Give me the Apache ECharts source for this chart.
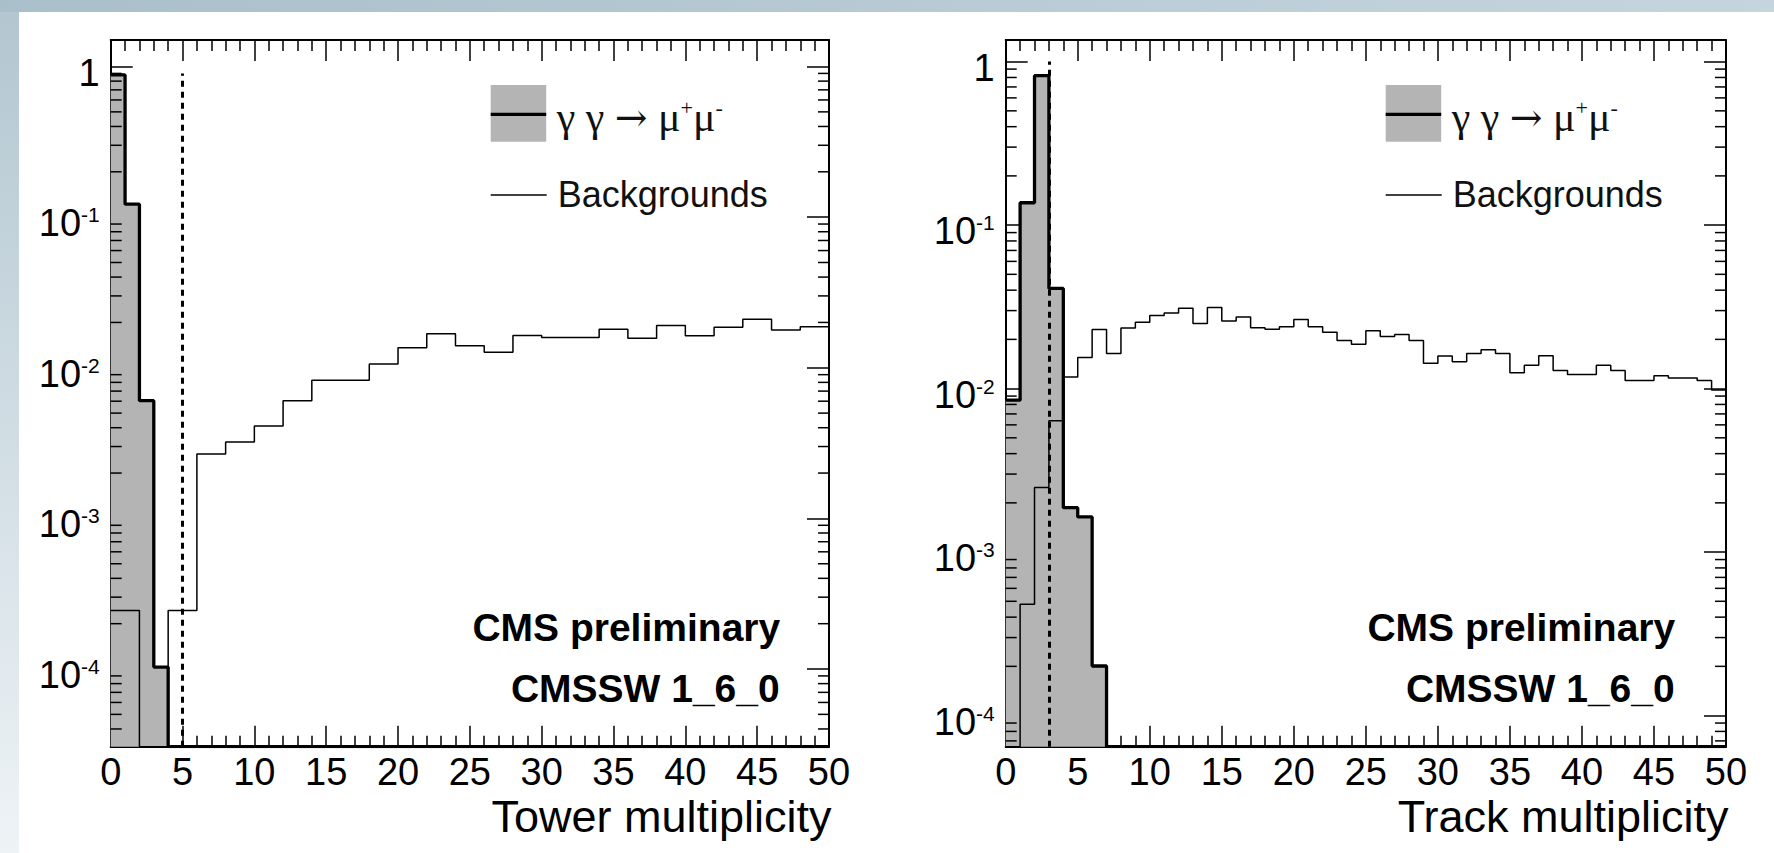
<!DOCTYPE html>
<html>
<head>
<meta charset="utf-8">
<script src="https://cdn.jsdelivr.net/npm/echarts@6/dist/echarts.min.js"></script>
<style>
html,body{margin:0;padding:0;background:#fff;}
#chart{width:1774px;height:853px;}
</style>
</head>
<body>
<div id="chart"></div>
<script>
// ---------------- data ----------------
// x-axis ticks (both panels)
const xMin = 0, xMax = 50, xTickStep = 5;

// Tower multiplicity panel
const towerSignalBinWidth = 1;
const towerSignal = [0.88, 0.122, 0.00605, 0.000103, 0, 0, 0, 0, 0, 0,
  0, 0, 0, 0, 0, 0, 0, 0, 0, 0, 0, 0, 0, 0, 0, 0, 0, 0, 0, 0,
  0, 0, 0, 0, 0, 0, 0, 0, 0, 0, 0, 0, 0, 0, 0, 0, 0, 0, 0, 0];
const towerBackgroundBinWidth = 2;
const towerBackground = [2.45e-4, 0, 2.45e-4, 2.68e-3, 3.21e-3, 4.11e-3, 6.03e-3, 8.26e-3, 8.26e-3, 0.0106,
  0.0136, 0.0168, 0.0140, 0.0127, 0.0164, 0.0159, 0.0159, 0.0180, 0.0157, 0.0191,
  0.0163, 0.0186, 0.0210, 0.0178, 0.0187];
const towerCut = 5, towerCutTop = 0.9;
const towerYRange = [3.05e-5, 1.5];

// Track multiplicity panel
const trackSignalBinWidth = 1;
const trackSignal = [0.0085, 0.137, 0.821, 0.041, 0.00187, 0.00164, 0.000201, 0, 0, 0,
  0, 0, 0, 0, 0, 0, 0, 0, 0, 0, 0, 0, 0, 0, 0, 0, 0, 0, 0, 0,
  0, 0, 0, 0, 0, 0, 0, 0, 0, 0, 0, 0, 0, 0, 0, 0, 0, 0, 0, 0];
const trackBackgroundBinWidth = 1;
const trackBackground = [0, 4.8e-4, 2.48e-3, 6.36e-3, 0.01177, 0.0155, 0.0230, 0.0164, 0.0235, 0.0255,
  0.028, 0.029, 0.031, 0.025, 0.0313, 0.0259, 0.0274, 0.0236, 0.0231, 0.0239,
  0.0265, 0.0239, 0.0221, 0.0197, 0.0187, 0.0226, 0.0208, 0.0214, 0.0197, 0.0143,
  0.0158, 0.0146, 0.0164, 0.0173, 0.0164, 0.0125, 0.0139, 0.0159, 0.0129, 0.0122,
  0.0122, 0.0139, 0.0129, 0.0112, 0.0112, 0.0120, 0.0116, 0.0116, 0.0112, 0.0098];
const trackCut = 3, trackCutTop = 1.0;
const trackYRange = [6.45e-5, 1.356];

// text
const xTitles = ['Tower multiplicity', 'Track multiplicity'];
const legendSignal = 'γ γ {a|→} μ{s|+}μ{s|-}';
const legendBackground = 'Backgrounds';
const cmsLine1 = 'CMS preliminary';
const cmsLine2 = 'CMSSW 1_6_0';

// ---------------- layout / style ----------------
const SANS = '"Liberation Sans", Arial, Helvetica, sans-serif';
const SERIF = '"Liberation Serif", "DejaVu Serif", "Times New Roman", serif';
const panels = [
  {left: 110.7, width: 718.3, sig: towerSignal, sigW: towerSignalBinWidth, bg: towerBackground, bgW: towerBackgroundBinWidth, cut: towerCut, cutTop: towerCutTop, yr: towerYRange, title: xTitles[0]},
  {left: 1005.7, width: 720.3, sig: trackSignal, sigW: trackSignalBinWidth, bg: trackBackground, bgW: trackBackgroundBinWidth, cut: trackCut, cutTop: trackCutTop, yr: trackYRange, title: xTitles[1]}
];
const GRID_TOP = 40, GRID_H = 706.7;

function histPoints(values, binWidth, floor) {
  const pts = values.map((v, i) => [xMin + i * binWidth, v > 0 ? v : floor]);
  const last = values[values.length - 1];
  pts.push([xMin + values.length * binWidth, last > 0 ? last : floor]);
  return pts;
}
function logLabel(value) {
  const l = Math.log10(value);
  const e = Math.round(l);
  if (Math.abs(l - e) > 1e-6) return '';
  if (e === 0) return '1';
  return '10{s|' + e + '}';
}
function minorValues(yr) {
  const out = [];
  for (let k = Math.floor(Math.log10(yr[0])); k <= Math.ceil(Math.log10(yr[1])); k++) {
    for (let m = 2; m <= 9; m++) {
      const v = m * Math.pow(10, k);
      if (v > yr[0] && v < yr[1]) out.push([0, v]);
    }
  }
  return out;
}

const grid = [], xAxis = [], yAxis = [], series = [], graphic = [];
const axisLineStyle = {color: '#000', width: 2};
const tickStyle = {color: '#000', width: 1.5};

panels.forEach((p, g) => {
  grid.push({left: p.left, top: GRID_TOP, width: p.width, height: GRID_H, containLabel: false});
  // bottom & top x axes
  [['bottom', true], ['top', false]].forEach(([pos, lab]) => {
    xAxis.push({
      gridIndex: g, type: 'value', position: pos, min: xMin, max: xMax, interval: xTickStep,
      axisLine: {show: true, onZero: false, lineStyle: axisLineStyle},
      axisTick: {show: true, inside: true, length: 21, lineStyle: tickStyle},
      minorTick: {show: true, splitNumber: 5, length: 11, lineStyle: tickStyle},
      splitLine: {show: false}, minorSplitLine: {show: false},
      axisLabel: {show: lab, fontSize: 38, color: '#000', fontFamily: SANS, margin: 6}
    });
  });
  // left & right log y axes
  [['left', true], ['right', false]].forEach(([pos, lab]) => {
    yAxis.push({
      gridIndex: g, type: 'log', logBase: 10, position: pos, min: p.yr[0], max: p.yr[1],
      axisLine: {show: true, onZero: false, lineStyle: axisLineStyle},
      axisTick: {show: true, inside: true, length: 22, lineStyle: tickStyle},
      splitLine: {show: false},
      axisLabel: {
        show: lab, fontSize: 38, color: '#000', fontFamily: SANS, margin: 11,
        padding: [12, 0, 0, 0],
        formatter: logLabel,
        rich: {s: {fontSize: 21, fontFamily: SANS, color: '#000', verticalAlign: 'top', lineHeight: 21}}
      }
    });
  });
  const xi = g * 2, yi = g * 2;
  // signal histogram (filled)
  series.push({
    type: 'line', xAxisIndex: xi, yAxisIndex: yi, step: 'end', symbol: 'none',
    data: histPoints(p.sig, p.sigW, p.yr[0]),
    lineStyle: {color: '#000', width: 3.3},
    areaStyle: {color: '#b4b4b4', opacity: 1, origin: 'start'},
    z: 2, silent: true
  });
  // background histogram
  series.push({
    type: 'line', xAxisIndex: xi, yAxisIndex: yi, step: 'end', symbol: 'none',
    data: histPoints(p.bg, p.bgW, p.yr[0]),
    lineStyle: {color: '#000', width: 1.5},
    z: 3, silent: true,
    markLine: {
      silent: true, symbol: ['none', 'none'], label: {show: false}, animation: false,
      lineStyle: {color: '#000', width: 3, type: [6, 5]},
      data: [[{coord: [p.cut, p.yr[0]]}, {coord: [p.cut, p.cutTop]}]]
    }
  });
  // log minor ticks (2..9 x 10^k), left and right, inside the frame
  series.push({
    type: 'custom', xAxisIndex: xi, yAxisIndex: yi, silent: true, z: 4,
    data: minorValues(p.yr),
    renderItem: function (params, api) {
      const cs = params.coordSys;
      const y = api.coord([0, api.value(1)])[1];
      return {type: 'group', children: [
        {type: 'line', shape: {x1: cs.x, y1: y, x2: cs.x + 11, y2: y}, style: {stroke: '#000', lineWidth: 1.5}},
        {type: 'line', shape: {x1: cs.x + cs.width - 11, y1: y, x2: cs.x + cs.width, y2: y}, style: {stroke: '#000', lineWidth: 1.5}}
      ]};
    }
  });

  const L = p.left;
  // legend
  graphic.push({type: 'rect', shape: {x: L + 380, y: 85, width: 55.5, height: 56.7}, style: {fill: '#b4b4b4'}, z: 10});
  graphic.push({type: 'line', shape: {x1: L + 380, y1: 114.3, x2: L + 435.5, y2: 114.3}, style: {stroke: '#000', lineWidth: 3.3}, z: 11});
  graphic.push({type: 'text', x: L + 446, y: 117, z: 11, style: {
    text: legendSignal, fill: '#111', font: '42px ' + SERIF, fontSize: 42, fontFamily: SERIF,
    textAlign: 'left', textVerticalAlign: 'middle', verticalAlign: 'middle',
    rich: {
      s: {fontSize: 22, fontFamily: SERIF, fill: '#111', verticalAlign: 'top', lineHeight: 22},
      a: {fontSize: 39, fontFamily: '"DejaVu Serif", serif', fill: '#111'}
    }
  }});
  graphic.push({type: 'line', shape: {x1: L + 380, y1: 195, x2: L + 436, y2: 195}, style: {stroke: '#000', lineWidth: 1.5}, z: 11});
  graphic.push({type: 'text', x: L + 447, y: 194, z: 11, style: {
    text: legendBackground, fill: '#111', font: '36px ' + SANS, fontSize: 36, fontFamily: SANS,
    textAlign: 'left', textVerticalAlign: 'middle', verticalAlign: 'middle'
  }});
  // CMS labels
  graphic.push({type: 'text', x: L + 669.5, y: 627, z: 11, style: {
    text: cmsLine1, fill: '#000', font: 'bold 39px ' + SANS, fontSize: 39, fontWeight: 'bold', fontFamily: SANS,
    textAlign: 'right', textVerticalAlign: 'middle', verticalAlign: 'middle', align: 'right'
  }});
  graphic.push({type: 'text', x: L + 669, y: 688, z: 11, style: {
    text: cmsLine2, fill: '#000', font: 'bold 39px ' + SANS, fontSize: 39, fontWeight: 'bold', fontFamily: SANS,
    textAlign: 'right', textVerticalAlign: 'middle', verticalAlign: 'middle', align: 'right'
  }});
  // x-axis title, right aligned at axis end
  graphic.push({type: 'text', x: L + p.width + 2.5, y: 816, z: 11, style: {
    text: p.title, fill: '#000', font: '45px ' + SANS, fontSize: 45, fontFamily: SANS,
    textAlign: 'right', textVerticalAlign: 'middle', verticalAlign: 'middle', align: 'right'
  }});
});

// slide background bands
graphic.unshift({type: 'rect', z: -1, shape: {x: 0, y: 0, width: 1774, height: 12},
  style: {fill: new echarts.graphic.LinearGradient(0, 0, 1, 0, [{offset: 0, color: '#a9bfca'}, {offset: 1, color: '#c5d5dd'}])}});
graphic.unshift({type: 'rect', z: -1, shape: {x: 0, y: 0, width: 19, height: 853},
  style: {fill: new echarts.graphic.LinearGradient(0, 0, 0, 1, [{offset: 0, color: '#b2c6d0'}, {offset: 1, color: '#eef3f6'}])}});

const chart = echarts.init(document.getElementById('chart'), null, {renderer: 'svg'});
chart.setOption({
  animation: false,
  backgroundColor: '#fff',
  grid, xAxis, yAxis, series, graphic
});
</script>
</body>
</html>
